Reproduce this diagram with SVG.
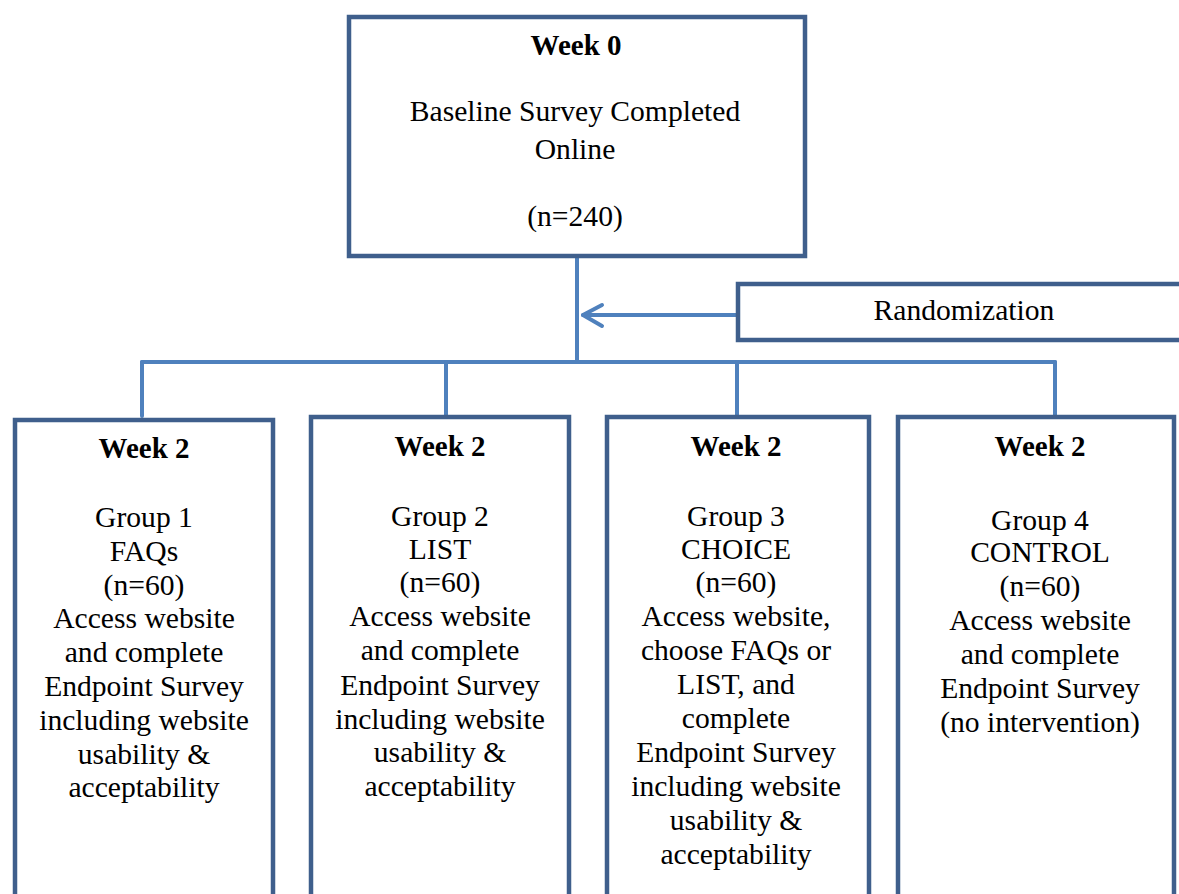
<svg xmlns="http://www.w3.org/2000/svg" width="1179" height="894" viewBox="0 0 1179 894">
<style>
.box{fill:#fff;stroke:#3f5f8c;stroke-width:4.5}
.conn{fill:none;stroke:#4f81bd;stroke-width:4;stroke-linecap:round;stroke-linejoin:round}
text{font-family:"Liberation Serif","Times New Roman",serif;font-size:29.6px;fill:#000;text-anchor:middle}
.b{font-weight:bold;font-size:29px}
</style>
<rect width="1179" height="894" fill="#fff"/>
<g id="connectors">
<path class="conn" d="M577 258 V362"/>
<path class="conn" d="M142 362 H1055"/>
<path class="conn" d="M142 362 V416 M446 362 V415 M737 362 V415 M1055 362 V415"/>
<path class="conn" d="M736 315 H583"/>
<path class="conn" d="M602 305 L583 315 L602 326"/>
</g>
<g id="week0">
<rect class="box" x="349" y="17" width="456" height="239"/>
<text class="b" x="576" y="55">Week 0</text>
<text x="575" y="121">Baseline Survey Completed</text>
<text x="575" y="159">Online</text>
<text x="575" y="226">(n=240)</text>
</g>
<g id="randomization">
<rect class="box" x="738" y="284" width="500" height="56"/>
<text x="964" y="320">Randomization</text>
</g>
<g id="group1">
<rect class="box" x="15" y="420" width="258" height="500"/>
<text class="b" x="144" y="458">Week 2</text>
<text x="144" y="527">Group 1</text>
<text x="144" y="561">FAQs</text>
<text x="144" y="595">(n=60)</text>
<text x="144" y="628">Access website</text>
<text x="144" y="662">and complete</text>
<text x="144" y="696">Endpoint Survey</text>
<text x="144" y="730">including website</text>
<text x="144" y="764">usability &amp;</text>
<text x="144" y="797">acceptability</text>
</g>
<g id="group2">
<rect class="box" x="311" y="417" width="258" height="500"/>
<text class="b" x="440" y="456">Week 2</text>
<text x="440" y="526">Group 2</text>
<text x="440" y="559">LIST</text>
<text x="440" y="592">(n=60)</text>
<text x="440" y="626">Access website</text>
<text x="440" y="660">and complete</text>
<text x="440" y="695">Endpoint Survey</text>
<text x="440" y="729">including website</text>
<text x="440" y="762">usability &amp;</text>
<text x="440" y="796">acceptability</text>
</g>
<g id="group3">
<rect class="box" x="607" y="417" width="262" height="500"/>
<text class="b" x="736" y="456">Week 2</text>
<text x="736" y="526">Group 3</text>
<text x="736" y="559">CHOICE</text>
<text x="736" y="592">(n=60)</text>
<text x="736" y="626">Access website,</text>
<text x="736" y="660">choose FAQs or</text>
<text x="736" y="694">LIST, and</text>
<text x="736" y="728">complete</text>
<text x="736" y="762">Endpoint Survey</text>
<text x="736" y="796">including website</text>
<text x="736" y="830">usability &amp;</text>
<text x="736" y="864">acceptability</text>
</g>
<g id="group4">
<rect class="box" x="898" y="417" width="276" height="500"/>
<text class="b" x="1040" y="456">Week 2</text>
<text x="1040" y="530">Group 4</text>
<text x="1040" y="562">CONTROL</text>
<text x="1040" y="596">(n=60)</text>
<text x="1040" y="630">Access website</text>
<text x="1040" y="664">and complete</text>
<text x="1040" y="698">Endpoint Survey</text>
<text x="1040" y="732">(no intervention)</text>
</g>
</svg>
